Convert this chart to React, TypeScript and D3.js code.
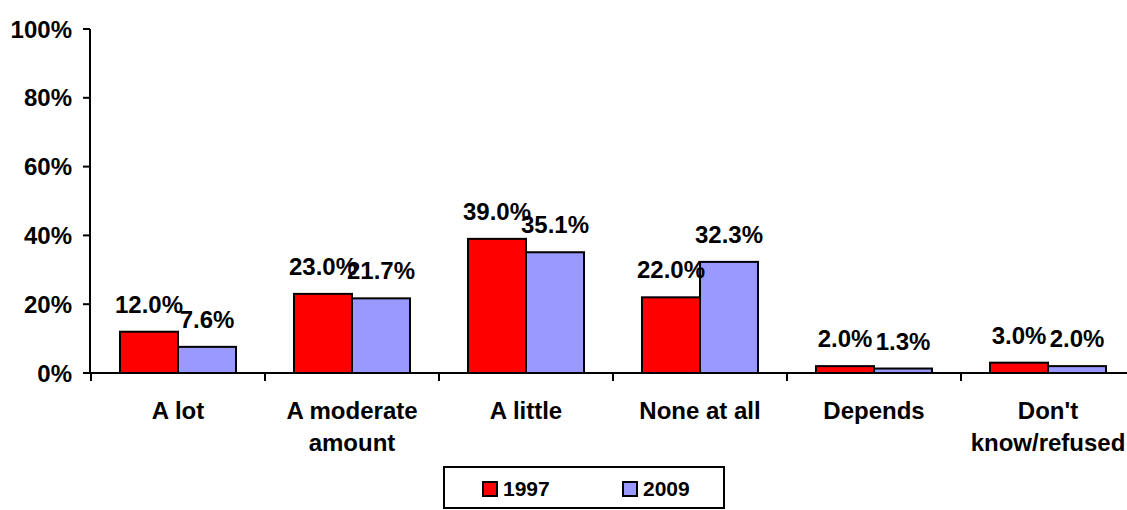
import React from "react";
import * as d3 from "d3";

const categories: string[][] = [
  ["A lot"],
  ["A moderate", "amount"],
  ["A little"],
  ["None at all"],
  ["Depends"],
  ["Don't", "know/refused"],
];
const seriesNames = ["1997", "2009"];
const values1997 = [12.0, 23.0, 39.0, 22.0, 2.0, 3.0];
const values2009 = [7.6, 21.7, 35.1, 32.3, 1.3, 2.0];
const yTicks = [0, 20, 40, 60, 80, 100];
const colors = ["#ff0000", "#9999ff"];

const W = 1127;
const H = 510;
const X0 = 91;
const BAND = 174;
const Y0 = 373;
const Y100 = 29;
const FONT = "Arial, 'Liberation Sans', sans-serif";

export default function App() {
  const idx = categories.map((_, i) => String(i));
  const x = d3.scaleBand<string>().domain(idx).range([X0, X0 + BAND * categories.length]).paddingInner(0).paddingOuter(0);
  const y = d3.scaleLinear().domain([0, 100]).range([Y0, Y100]);
  const series = [values1997, values2009];
  const groupW = (x.bandwidth() * 2) / 3;
  const inner = d3.scaleBand<number>().domain([0, 1]).range([0, groupW]);

  return (
    <svg width={W} height={H} style={{ position: "absolute", left: 0, top: 0, background: "#fff" }} fontFamily={FONT} fontWeight="bold">
      {/* y axis */}
      <line x1={X0 - 1} x2={X0 - 1} y1={Y100} y2={Y0} stroke="#000" strokeWidth={2} />
      {yTicks.map((t) => (
        <g key={t}>
          <line x1={X0 - 8} x2={X0 - 1} y1={y(t)} y2={y(t)} stroke="#000" strokeWidth={2} />
          <text x={72} y={y(t)} dy="0.36em" textAnchor="end" fontSize={24}>
            {t}%
          </text>
        </g>
      ))}
      {/* bars */}
      {series.map((vals, s) =>
        vals.map((v, i) => {
          const bx = (x(String(i)) as number) + (x.bandwidth() - groupW) / 2 + (inner(s) as number);
          return (
            <rect key={`${s}-${i}`} x={bx} y={y(v)} width={inner.bandwidth()} height={Y0 - y(v)} fill={colors[s]} stroke="#000" strokeWidth={2} />
          );
        })
      )}
      {/* x axis */}
      <line x1={X0 - 1} x2={W} y1={Y0} y2={Y0} stroke="#000" strokeWidth={2} />
      {d3.range(categories.length + 1).map((i) => (
        <line key={i} x1={X0 + i * BAND} x2={X0 + i * BAND} y1={Y0} y2={Y0 + 8} stroke="#000" strokeWidth={2} />
      ))}
      {/* data labels */}
      {series.map((vals, s) =>
        vals.map((v, i) => {
          const bx = (x(String(i)) as number) + (x.bandwidth() - groupW) / 2 + (inner(s) as number) + inner.bandwidth() / 2;
          return (
            <text key={`l${s}-${i}`} x={bx} y={y(v) - 19} textAnchor="middle" fontSize={24}>
              {v.toFixed(1)}%
            </text>
          );
        })
      )}
      {/* category labels */}
      {categories.map((lines, i) => (
        <text key={`c${i}`} x={(x(String(i)) as number) + x.bandwidth() / 2} y={419} textAnchor="middle" fontSize={24}>
          {lines.map((ln, j) => (
            <tspan key={j} x={(x(String(i)) as number) + x.bandwidth() / 2} dy={j === 0 ? 0 : 32}>
              {ln}
            </tspan>
          ))}
        </text>
      ))}
      {/* legend */}
      <rect x={444} y={467} width={280} height={41} fill="#fff" stroke="#000" strokeWidth={2} />
      {seriesNames.map((n, s) => (
        <g key={n} transform={`translate(${483 + s * 140},482)`}>
          <rect x={0} y={0} width={14} height={14} fill={colors[s]} stroke="#000" strokeWidth={2} />
          <text x={20} y={14} fontSize={21}>
            {n}
          </text>
        </g>
      ))}
    </svg>
  );
}
